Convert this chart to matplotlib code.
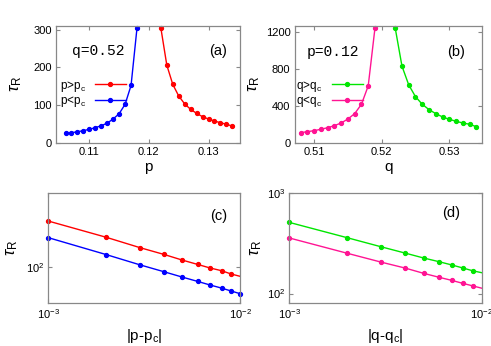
import numpy as np
import matplotlib
matplotlib.use("Agg")
import matplotlib.pyplot as plt
from matplotlib.ticker import NullLocator, LogLocator

plt.rcParams['font.family'] = ['Liberation Sans', 'DejaVu Sans']
plt.rcParams['mathtext.fontset'] = 'custom'
plt.rcParams['mathtext.rm'] = 'Liberation Sans'
plt.rcParams['mathtext.it'] = 'Liberation Sans:italic'

# panel (a): tau_R vs p at q=0.52
p_below = [0.106, 0.107, 0.108, 0.109, 0.110, 0.111, 0.112, 0.113, 0.114, 0.115, 0.116, 0.117, 0.118]
tau_p_below = [25, 26.5, 29, 32, 35.5, 40, 45, 52, 63, 77, 102, 152, 305]
p_above = [0.122, 0.123, 0.124, 0.125, 0.126, 0.127, 0.128, 0.129, 0.130, 0.131, 0.132, 0.133, 0.134]
tau_p_above = [305, 206, 155, 124, 103, 88.5, 78, 69, 63, 57.5, 53, 49, 44]

# panel (b): tau_R vs q at p=0.12
q_below = [0.508, 0.509, 0.510, 0.511, 0.512, 0.513, 0.514, 0.515, 0.516, 0.517, 0.518, 0.519]
tau_q_below = [108, 119, 130, 145, 162, 184, 213, 256, 314, 415, 613, 1237]
q_above = [0.522, 0.523, 0.524, 0.525, 0.526, 0.527, 0.528, 0.529, 0.530, 0.531, 0.532, 0.533, 0.534]
tau_q_above = [1237, 826, 624, 497, 415, 357, 314, 278, 253, 231, 213, 199, 173]

# panels (c), (d): log-log vs distance from critical point
dist = [1e-3, 2e-3, 3e-3, 4e-3, 5e-3, 6e-3, 7e-3, 8e-3, 9e-3, 1e-2]
tau_c_above = [288, 199, 157, 134.5, 118, 107, 98.4, 92.7, 85.8, 81.5]
tau_c_below = [197, 134, 106, 90.6, 80, 72.6, 66.7, 62.3, 58.2, 54.8]
tau_d_above = [508, 358, 291, 252, 225, 207, 192, 179, 168, 161]
tau_d_below = [356, 251, 205, 179, 158.5, 145, 135, 126, 119, 113]

RED = '#ff0000'
BLUE = '#0000ff'
GREEN = '#00e600'
PINK = '#ff1493'
SPINE = '#888888'

fig = plt.figure(figsize=(4.91, 3.46), dpi=100)
ax_a = fig.add_axes([0.114, 0.5876, 0.375, 0.3373])
ax_b = fig.add_axes([0.600, 0.5876, 0.381, 0.3373])
ax_c = fig.add_axes([0.0984, 0.1234, 0.3906, 0.3196])
ax_d = fig.add_axes([0.589, 0.1234, 0.392, 0.3196])


def style(ax):
    for s in ax.spines.values():
        s.set_color(SPINE)
        s.set_linewidth(0.9)
    ax.tick_params(direction='in', top=True, right=True, length=3,
                   color=SPINE, labelsize=8, pad=3)
    ax.tick_params(which='minor', length=0)


line_kw = dict(marker='o', markersize=2.8, linewidth=1.0, clip_on=False)
leg_kw = dict(loc='upper left', frameon=False, markerfirst=False, fontsize=8.5,
              handlelength=2.6, handletextpad=0.8, labelspacing=0.05,
              borderpad=0, borderaxespad=0)

# (a)
ax_a.plot(p_above, tau_p_above, color=RED, label=r'p>p$_\mathrm{c}$', **line_kw)
ax_a.plot(p_below, tau_p_below, color=BLUE, label=r'p<p$_\mathrm{c}$', **line_kw)
ax_a.set_xlim(0.1044, 0.1353)
ax_a.set_ylim(0, 310)
ax_a.set_xticks([0.11, 0.12, 0.13])
ax_a.set_yticks([0, 100, 200, 300])
ax_a.set_xlabel('p', fontsize=11, labelpad=2)
ax_a.set_ylabel(r'$\tau_\mathrm{R}$', fontsize=12, labelpad=7)
ax_a.text(0.087, 0.788, 'q=0.52', transform=ax_a.transAxes, fontsize=10.5,
          family='Liberation Mono', va='center', ha='left')
ax_a.text(0.929, 0.788, '(a)', transform=ax_a.transAxes, fontsize=10.5,
          va='center', ha='right')
ax_a.legend(bbox_to_anchor=(0.02, 0.55), **leg_kw)
style(ax_a)

# (b)
ax_b.plot(q_above, tau_q_above, color=GREEN, label=r'q>q$_\mathrm{c}$', **line_kw)
ax_b.plot(q_below, tau_q_below, color=PINK, label=r'q<q$_\mathrm{c}$', **line_kw)
ax_b.set_xlim(0.5071, 0.5348)
ax_b.set_ylim(0, 1260)
ax_b.set_xticks([0.51, 0.52, 0.53])
ax_b.set_yticks([0, 400, 800, 1200])
ax_b.set_xlabel('q', fontsize=11, labelpad=2)
ax_b.set_ylabel(r'$\tau_\mathrm{R}$', fontsize=12, labelpad=3)
ax_b.text(0.066, 0.78, 'p=0.12', transform=ax_b.transAxes, fontsize=10.5,
          family='Liberation Mono', va='center', ha='left')
ax_b.text(0.911, 0.78, '(b)', transform=ax_b.transAxes, fontsize=10.5,
          va='center', ha='right')
ax_b.legend(bbox_to_anchor=(0.01, 0.55), **leg_kw)
style(ax_b)

# (c)
ax_c.plot(dist, tau_c_above, color=RED, markevery=list(range(9)), **line_kw)
ax_c.plot(dist, tau_c_below, color=BLUE, **line_kw)
ax_c.set_xscale('log')
ax_c.set_yscale('log')
ax_c.set_xlim(1e-3, 1e-2)
ax_c.set_ylim(44, 550)
ax_c.xaxis.set_major_locator(LogLocator(base=10, numticks=5))
ax_c.xaxis.set_minor_locator(NullLocator())
ax_c.yaxis.set_minor_locator(NullLocator())
ax_c.set_xlabel(r'|p-p$_\mathrm{c}$|', fontsize=11, labelpad=4)
ax_c.set_ylabel(r'$\tau_\mathrm{R}$', fontsize=12, labelpad=4)
ax_c.text(0.932, 0.792, '(c)', transform=ax_c.transAxes, fontsize=10.5,
          va='center', ha='right')
style(ax_c)

# (d)
ax_d.plot(dist, tau_d_above, color=GREEN, markevery=list(range(9)), **line_kw)
ax_d.plot(dist, tau_d_below, color=PINK, markevery=list(range(9)), **line_kw)
ax_d.set_xscale('log')
ax_d.set_yscale('log')
ax_d.set_xlim(1e-3, 1e-2)
ax_d.set_ylim(80, 1000)
ax_d.xaxis.set_minor_locator(NullLocator())
ax_d.yaxis.set_minor_locator(NullLocator())
ax_d.set_xlabel(r'|q-q$_\mathrm{c}$|', fontsize=11, labelpad=4)
ax_d.set_ylabel(r'$\tau_\mathrm{R}$', fontsize=12, labelpad=2)
ax_d.text(0.887, 0.819, '(d)', transform=ax_d.transAxes, fontsize=10.5,
          va='center', ha='right')
style(ax_d)

fig.savefig('out.png', dpi=100)
